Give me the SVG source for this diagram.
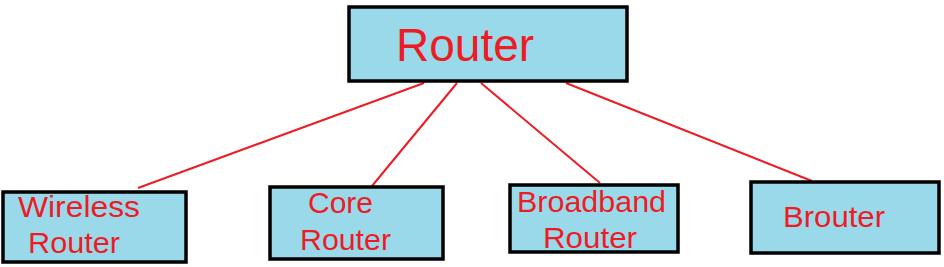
<svg xmlns="http://www.w3.org/2000/svg" width="944" height="267" viewBox="0 0 944 267">
<style>
.box{fill:#99d9ea;stroke:#000;stroke-width:3.5}
.t{font-family:"Liberation Sans",Arial,sans-serif;fill:#ed1c24;font-size:30px}
.big{font-size:46px}
.c line{stroke:#ed1c24;stroke-width:2}
</style>
<rect width="944" height="267" fill="#fff"/>
<g class="c" id="connectors">
<line x1="424" y1="83" x2="138" y2="188"/>
<line x1="457" y1="83" x2="372" y2="186"/>
<line x1="481" y1="83" x2="600" y2="183"/>
<line x1="566" y1="83" x2="812" y2="181"/>
</g>
<g id="router">
<rect class="box" x="349" y="7" width="278" height="74"/>
<text class="t big" x="396" y="61">Router</text>
</g>
<g id="wireless">
<rect class="box" x="3" y="192" width="183" height="70"/>
<text class="t" x="18" y="217" textLength="122" lengthAdjust="spacingAndGlyphs">Wireless</text>
<text class="t" x="28" y="253" textLength="92" lengthAdjust="spacingAndGlyphs">Router</text>
</g>
<g id="core">
<rect class="box" x="270" y="187" width="173" height="72"/>
<text class="t" x="308" y="213" textLength="65" lengthAdjust="spacingAndGlyphs">Core</text>
<text class="t" x="300" y="250" textLength="91" lengthAdjust="spacingAndGlyphs">Router</text>
</g>
<g id="broadband">
<rect class="box" x="510" y="185" width="168" height="67"/>
<text class="t" x="517" y="212" textLength="149" lengthAdjust="spacingAndGlyphs">Broadband</text>
<text class="t" x="543" y="248" textLength="94" lengthAdjust="spacingAndGlyphs">Router</text>
</g>
<g id="brouter">
<rect class="box" x="751" y="182" width="188" height="71"/>
<text class="t" x="783" y="227" textLength="102" lengthAdjust="spacingAndGlyphs">Brouter</text>
</g>
</svg>
